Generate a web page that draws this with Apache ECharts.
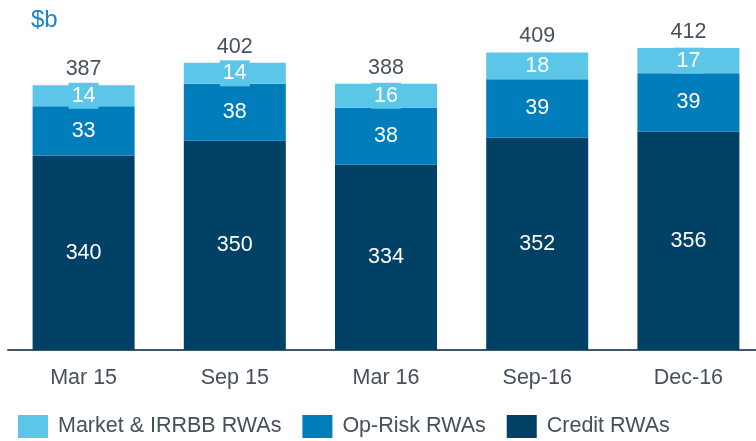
<!DOCTYPE html>
<html>
<head>
<meta charset="utf-8">
<script src="https://cdn.jsdelivr.net/npm/echarts@6/dist/echarts.min.js"></script>
<style>
  html, body { margin: 0; padding: 0; background: #fff; }
  #chart { width: 756px; height: 441px; }
</style>
</head>
<body>
<div id="chart"></div>
<script>
// RWA by period ($b)
var categories = ['Mar 15', 'Sep 15', 'Mar 16', 'Sep-16', 'Dec-16'];
var creditRWAs = [340, 350, 334, 352, 356];
var opRiskRWAs = [33, 38, 38, 39, 39];
var marketRWAs = [14, 14, 16, 18, 17];
var totals = [387, 402, 388, 409, 412];

var FONT = 'Liberation Sans, Arial, sans-serif';
var FS = 21.5;
var TEXT = '#44505c';
var C_LIGHT = '#5bc6e8';
var C_MID = '#007dba';
var C_DARK = '#004165';

var chart = echarts.init(document.getElementById('chart'));

function innerLabel(extra) {
  var l = {
    show: true,
    position: 'inside',
    color: '#fff',
    fontSize: FS,
    fontFamily: FONT
  };
  for (var k in extra) l[k] = extra[k];
  return l;
}

chart.setOption({
  animation: false,
  title: {
    text: '$b',
    left: 31,
    top: 8,
    padding: 0,
    textStyle: { color: '#1b87c9', fontSize: 24, fontWeight: 'normal', fontFamily: FONT }
  },
  legend: {
    data: ['Market & IRRBB RWAs', 'Op-Risk RWAs', 'Credit RWAs'],
    left: 18,
    top: 415,
    padding: 0,
    itemWidth: 30,
    itemHeight: 23,
    itemGap: 21,
    icon: 'rect',
    textStyle: { color: TEXT, fontSize: FS, fontFamily: FONT, padding: [0, 0, 0, 5] }
  },
  grid: { left: 8, right: -8, top: 21, bottom: 91, outerBoundsMode: 'none' },
  xAxis: {
    type: 'category',
    data: categories,
    axisLine: { lineStyle: { color: '#44546a', width: 2 } },
    axisTick: { show: false },
    axisLabel: { color: TEXT, fontSize: FS, fontFamily: FONT, margin: 17 }
  },
  yAxis: {
    type: 'value',
    min: 210,
    max: 430,
    show: false,
    splitLine: { show: false }
  },
  series: [
    {
      name: 'Credit RWAs',
      type: 'bar',
      stack: 'rwa',
      barWidth: 102,
      data: creditRWAs,
      itemStyle: { color: C_DARK },
      label: innerLabel({})
    },
    {
      name: 'Op-Risk RWAs',
      type: 'bar',
      stack: 'rwa',
      data: opRiskRWAs,
      itemStyle: { color: C_MID },
      label: innerLabel({})
    },
    {
      name: 'Market & IRRBB RWAs',
      type: 'bar',
      stack: 'rwa',
      data: marketRWAs,
      itemStyle: { color: C_LIGHT },
      label: innerLabel({ backgroundColor: C_LIGHT, padding: [2, 3] })
    },
    {
      name: 'Total',
      type: 'bar',
      stack: 'rwa',
      data: totals.map(function () { return 0; }),
      itemStyle: { color: 'transparent' },
      label: {
        show: true,
        position: 'top',
        distance: 5,
        color: TEXT,
        fontSize: FS,
        fontFamily: FONT,
        formatter: function (p) { return totals[p.dataIndex]; }
      }
    }
  ]
});
</script>
</body>
</html>
